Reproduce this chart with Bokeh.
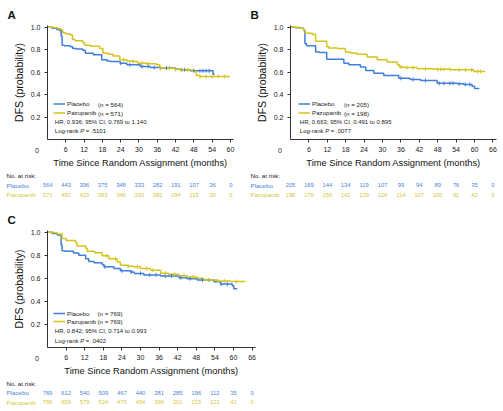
import numpy as np
from bokeh.plotting import figure
from bokeh.layouts import column, row
from bokeh.models import Range1d, Label, Legend, LegendItem, FixedTicker, PrintfTickFormatter
from bokeh.core.properties import value
from bokeh.embed import file_html
from bokeh.resources import INLINE

FONT = "Liberation Sans"
BLUE = "#3f7fd9"
YELLOW = "#d4c41e"
BLUE_T = "#4a84d8"
YELLOW_T = "#d3c73a"

# ---------------- data ----------------
# Panel A
a_plac_t = [0, 1.5, 3.0, 4.0, 4.5, 4.8, 5.5, 7.5, 8.3, 9.5, 11.6, 12.4, 15.0, 17.8, 19.5, 20.6, 23.8, 26.0, 30.4, 33.7, 37.0, 41.7, 43.5, 46.8, 54.3, 54.8]
a_plac_s = [1.0, 0.99, 0.98, 0.97, 0.92, 0.84, 0.835, 0.825, 0.81, 0.805, 0.795, 0.767, 0.755, 0.709, 0.70, 0.695, 0.68, 0.665, 0.65, 0.641, 0.636, 0.627, 0.621, 0.612, 0.58, 0.58]
a_pazo_t = [0, 2.0, 3.5, 4.5, 5.0, 6.0, 7.5, 8.2, 9.0, 11.6, 12.2, 14.0, 17.1, 18.2, 20.0, 21.5, 23.7, 26.0, 28.0, 29.6, 32.4, 35.7, 36.8, 39.0, 41.7, 43.3, 47.7, 48.8, 50.0, 59.8]
a_pazo_s = [1.0, 0.995, 0.985, 0.975, 0.95, 0.94, 0.93, 0.89, 0.88, 0.86, 0.84, 0.83, 0.81, 0.767, 0.76, 0.744, 0.709, 0.70, 0.694, 0.68, 0.675, 0.665, 0.638, 0.635, 0.625, 0.618, 0.606, 0.569, 0.56, 0.56]
a_plac_cens = [24, 27, 31, 33, 35, 37, 39, 40, 42, 44, 45, 48, 50, 51, 52, 53]
a_pazo_cens = [25, 28, 31, 33, 37, 40, 42, 44, 46, 50, 52, 54, 56, 58]
a_months = [0, 6, 12, 18, 24, 30, 36, 42, 48, 54, 60]
a_plac_risk = [564, 443, 396, 375, 348, 333, 282, 191, 107, 36, 0]
a_pazo_risk = [571, 482, 423, 383, 346, 330, 282, 194, 115, 30, 0]

# Panel B
b_plac_t = [0, 1.5, 3.3, 4.3, 4.7, 5.2, 8.2, 9.5, 11.8, 17.4, 19.0, 22.8, 24.5, 27.2, 30.4, 35.3, 39.0, 42.4, 47.8, 54.3, 56.5, 59.2, 60.0, 61.4]
b_plac_s = [1.0, 0.995, 0.99, 0.97, 0.855, 0.835, 0.78, 0.775, 0.715, 0.68, 0.665, 0.645, 0.615, 0.59, 0.57, 0.545, 0.534, 0.525, 0.50, 0.497, 0.49, 0.475, 0.455, 0.45]
b_pazo_t = [0, 3.0, 4.3, 4.9, 7.1, 8.2, 11.8, 12.5, 15.2, 17.9, 19.5, 21.7, 25.0, 28.3, 31.5, 34.8, 35.5, 37.0, 41.3, 47.0, 52.2, 59.7, 63.4]
b_pazo_s = [1.0, 0.99, 0.97, 0.945, 0.935, 0.875, 0.825, 0.815, 0.81, 0.78, 0.77, 0.76, 0.735, 0.71, 0.69, 0.665, 0.645, 0.64, 0.63, 0.625, 0.62, 0.606, 0.605]
b_plac_cens = [36, 40, 44, 48.5, 50, 52, 53, 55, 57, 58.5]
b_pazo_cens = [36, 38, 40, 44, 48, 49, 50, 52, 55, 57, 59, 61, 62]
b_months = [0, 6, 12, 18, 24, 30, 36, 42, 48, 54, 60, 66]
b_plac_risk = [205, 169, 144, 134, 119, 107, 99, 94, 89, 76, 35, 0]
b_pazo_risk = [198, 176, 156, 141, 129, 124, 114, 107, 100, 91, 42, 0]

# Panel C
c_plac_t = [0, 1.5, 3.1, 4.4, 4.7, 5.5, 8.4, 10.1, 12.3, 13.3, 15.0, 17.6, 18.2, 21.4, 23.5, 26.8, 28.0, 31.1, 36.5, 42.4, 45.0, 48.3, 53.7, 55.8, 59.6, 60.1, 61.2]
c_plac_s = [1.0, 0.99, 0.975, 0.89, 0.84, 0.834, 0.82, 0.80, 0.77, 0.745, 0.735, 0.72, 0.70, 0.686, 0.665, 0.655, 0.643, 0.63, 0.62, 0.605, 0.597, 0.585, 0.571, 0.55, 0.535, 0.51, 0.51]
c_pazo_t = [0, 2.0, 3.1, 4.7, 6.0, 9.0, 9.5, 12.3, 12.8, 15.2, 17.6, 19.8, 22.5, 23.5, 26.0, 27.8, 30.0, 33.2, 36.5, 39.0, 42.4, 45.0, 48.3, 50.4, 54.7, 59.0, 63.9]
c_pazo_s = [1.0, 0.995, 0.985, 0.945, 0.928, 0.91, 0.88, 0.862, 0.835, 0.822, 0.795, 0.771, 0.742, 0.714, 0.705, 0.70, 0.686, 0.671, 0.645, 0.635, 0.622, 0.612, 0.60, 0.585, 0.577, 0.572, 0.572]
c_plac_cens = [18.5, 24, 27, 30, 33, 35, 38, 40, 43, 46, 50, 52, 56, 58]
c_pazo_cens = [19, 22, 26, 29, 32, 34, 38, 41, 44, 47, 52, 55, 57, 61]
c_months = [0, 6, 12, 18, 24, 30, 36, 42, 48, 54, 60, 66]
c_plac_risk = [769, 612, 540, 509, 467, 440, 381, 285, 196, 112, 35, 0]
c_pazo_risk = [769, 659, 579, 524, 475, 454, 396, 301, 215, 121, 42, 0]

legend_labels = ["Placebo", "Pazopanib"]
risk_labels = ["No. at risk:", "Placebo", "Pazopanib"]
a_n = ["(n = 564)", "(n = 571)"]
b_n = ["(n = 205)", "(n = 198)"]
c_n = ["(n = 769)", "(n = 769)"]
a_hr, a_p = "HR, 0.936; 95% CI, 0.769 to 1.140", "= .5101"
b_hr, b_p = "HR, 0.663; 95% CI, 0.491 to 0.895", "= .0077"
c_hr, c_p = "HR, 0.842; 95% CI, 0.714 to 0.993", "= .0402"

# Arial/Liberation Sans advance widths (per 1000 em) for the few strings measured
AW = {' ': 278, 'L': 556, 'o': 556, 'g': 556, '-': 333, 'r': 333, 'a': 556,
      'n': 556, 'k': 500, 'P': 667}


def tw(s, size):
    return sum(AW[c] for c in s) * size / 1000.0


def step_lookup(t, s, times):
    t = np.asarray(t, float)
    s = np.asarray(s, float)
    idx = np.searchsorted(t, np.asarray(times, float), side="right") - 1
    return list(s[idx])


def km_fig(width, height, left, right, top, bottom, xmax, xticks, tag,
           plac, pazo, cens, ns, hr, pv, lx, row_h, n_x, hr_y, lr_y):
    p = figure(width=width, height=height, x_range=Range1d(0, xmax), y_range=Range1d(0, 1.015),
               output_backend="svg", toolbar_location=None,
               min_border_left=left, min_border_right=right,
               min_border_top=top, min_border_bottom=bottom)
    p.outline_line_color = None
    p.grid.visible = False
    p.background_fill_color = "white"
    p.border_fill_color = "white"
    # panel tag as the title
    p.title.text = tag
    p.title.align = "left"
    p.title.offset = -40
    p.title.text_font = FONT
    p.title.text_font_size = "11.5px"
    p.title.text_font_style = "bold"
    p.title.text_color = "#111111"
    p.title.vertical_align = "middle"
    p.title.standoff = 8
    for ax in (p.xaxis[0], p.yaxis[0]):
        ax.axis_line_color = "#333333"
        ax.major_tick_line_color = "#333333"
        ax.major_tick_out = 3
        ax.major_tick_in = 0
        ax.minor_tick_line_color = None
        ax.major_label_text_font = FONT
        ax.major_label_text_font_size = "7px"
        ax.major_label_text_color = "#222222"
        ax.axis_label_text_font = FONT
        ax.axis_label_text_font_style = "normal"
        ax.axis_label_text_color = "#111111"
        ax.major_label_standoff = 4
        ax.axis_label_standoff = 3
    p.xaxis.ticker = FixedTicker(ticks=xticks)
    p.yaxis.ticker = FixedTicker(ticks=[0.2, 0.4, 0.6, 0.8, 1.0])
    p.yaxis.formatter = PrintfTickFormatter(format="%.1f")
    p.xaxis.axis_label = "Time Since Random Assignment (months)"
    p.xaxis.axis_label_text_font_size = "9.3px"
    p.yaxis.axis_label = "DFS (probability)"
    p.yaxis.axis_label_text_font_size = "10.5px"

    r1 = p.step(x=plac[0], y=plac[1], mode="after", line_color=BLUE, line_width=1.5)
    r2 = p.step(x=pazo[0], y=pazo[1], mode="after", line_color=YELLOW, line_width=1.5)
    p.scatter(x=cens[0], y=step_lookup(plac[0], plac[1], cens[0]), marker="dash", angle=np.pi / 2,
              size=4, line_color=BLUE, line_width=1)
    p.scatter(x=cens[1], y=step_lookup(pazo[0], pazo[1], cens[1]), marker="dash", angle=np.pi / 2,
              size=4, line_color=YELLOW, line_width=1)

    leg = Legend(items=[LegendItem(label=legend_labels[0], renderers=[r1]),
                        LegendItem(label=legend_labels[1], renderers=[r2])],
                 location=(lx, 22), glyph_width=12, glyph_height=row_h, label_height=row_h,
                 label_width=10, label_standoff=2, spacing=0, padding=0, margin=0,
                 label_text_font=FONT, label_text_font_size="6.2px", label_text_color="#222222",
                 border_line_color=None, background_fill_alpha=0)
    p.add_layout(leg)

    def lab(x, y, text, size="6px", style="normal"):
        p.add_layout(Label(x=x, y=y, x_units="screen", y_units="screen", text=text, text_font=FONT,
                           text_font_size=size, text_font_style=style, text_align="left",
                           text_baseline="middle", text_color="#222222"))

    ry1 = 22 + row_h + row_h / 2.0
    ry2 = 22 + row_h / 2.0
    lab(n_x, ry1, ns[0], size="6.2px")
    lab(n_x, ry2, ns[1], size="6.2px")
    hx = lx + 1.3
    lab(hx, hr_y, hr)
    lab(hx, lr_y, "Log-rank")
    lab(hx + tw("Log-rank ", 6), lr_y, "P", style="italic")
    lab(hx + tw("Log-rank P ", 6), lr_y, pv)
    # shared origin label, placed in the left side panel
    p.add_layout(Label(x=0, y=0, x_offset=-10.5, y_offset=-10.7, text="0", text_font=FONT,
                       text_font_size="7px", text_align="center", text_baseline="middle",
                       text_color="#222222"), "left")
    return p


def risk_fig(width, height, x0px, ppm, months, plac, pazo, top_px, row_px, pad):
    xs = -x0px / ppm
    xe = xs + width / ppm
    y_top = -top_px / row_px
    y_bot = y_top + height / row_px
    p = figure(width=width, height=height, x_range=Range1d(xs, xe), y_range=Range1d(y_bot, y_top),
               min_border=0, output_backend="svg", toolbar_location=None,
               x_axis_location=None, y_axis_location=None)
    p.grid.visible = False
    p.outline_line_color = None
    common = dict(text_baseline="middle", text_font=value(FONT))
    p.text(x=months, y=[1] * len(months), text=[str(v) for v in plac], text_align="center",
           text_color=BLUE_T, text_font_size="5.8px", **common)
    p.text(x=months, y=[2] * len(months), text=[str(v) for v in pazo], text_align="center",
           text_color=YELLOW_T, text_font_size="5.8px", **common)
    p.text(x=[xs + pad / ppm] * 3, y=[0, 1, 2], text=risk_labels, text_align="left",
           text_color=["#222222", BLUE_T, YELLOW_T], text_font_size="6.2px", **common)
    return p


figA = km_fig(248, 170, 47, 15, 25, 29, 61.0, a_months[1:], "A",
              (a_plac_t, a_plac_s), (a_pazo_t, a_pazo_s), (a_plac_cens, a_pazo_cens),
              a_n, a_hr, a_p, 6, 9, 50.5, 17.7, 8.7)
figB = km_fig(252, 170, 42, 4, 25, 29, 206 / 3.067, b_months[1:], "B",
              (b_plac_t, b_plac_s), (b_pazo_t, b_pazo_s), (b_plac_cens, b_pazo_cens),
              b_n, b_hr, b_p, 8, 9, 53.5, 17.7, 8.7)
figC = km_fig(258, 178, 47, 3, 30, 30, 208 / 3.1, c_months[1:], "C",
              (c_plac_t, c_plac_s), (c_pazo_t, c_pazo_s), (c_plac_cens, c_pazo_cens),
              c_n, c_hr, c_p, 6, 8, 50.0, 16.6, 6.6)

arA = risk_fig(248, 30, 47.3, 186 / 61.0, a_months, a_plac_risk, a_pazo_risk, 5, 9.65, 6)
arB = risk_fig(252, 30, 42, 3.067, b_months, b_plac_risk, b_pazo_risk, 5, 9.65, 2)
arC = risk_fig(258, 31, 47, 3.1, c_months, c_plac_risk, c_pazo_risk, 5, 9.35, 6)

layout = column(row(figA, figB), row(arA, arB), row(figC), row(arC))

open("out.html", "w").write(file_html(layout, INLINE))
